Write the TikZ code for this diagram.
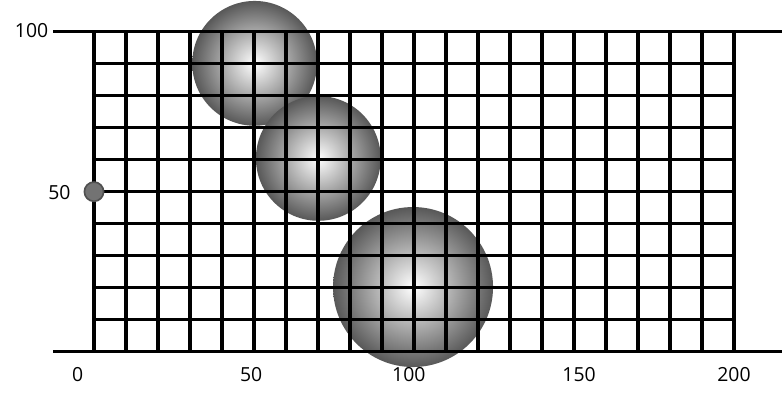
\documentclass[tikz,border=0pt]{standalone}
\usepackage{fontspec}
\setmainfont{Open Sans}
\usepackage{tikz}
\usetikzlibrary{positioning, shapes.geometric}
\definecolor{balledge}{RGB}{88,88,88}
\definecolor{dotfill}{RGB}{115,115,115}
\definecolor{dotline}{RGB}{80,80,80}

\begin{document}
\begin{tikzpicture}[
  x=0.08cm, y=0.08cm,
  ball/.style={
    circle, inner sep=0pt,
    inner color=white, outer color=balledge,
    minimum size=#1
  },
  gridline/.style={
    draw=black, line width=2.4pt
  },
  ticklabel/.style={
    font=\fontsize{13.8pt}{16pt}\selectfont,
    inner sep=0pt
  },
  marker/.style={
    circle, inner sep=0pt, minimum size=0.48cm,
    fill=dotfill, draw=dotline, line width=1.2pt
  }
]
\useasboundingbox (-29.375,-16.34) rectangle (215,109.9);

% spheres sit behind the grid
\node[ball=3.12cm] (sphA) at (50.2,90.1) {};
\node[ball=3.12cm] (sphB) at (70.1,60.4) {};
\node[ball=4cm]    (sphC) at (99.7,20.2) {};

% grid
\foreach \gx in {0,10,...,200}
  \draw[gridline] (\gx,0) -- (\gx,100);
\foreach \gy in {0,10,...,100}
  \draw[gridline] (0,\gy) -- (200,\gy);

% axes
\coordinate (baseL) at (-12.7,0);
\coordinate (baseR) at (215,0);
\coordinate (topL)  at (-12.7,100);
\coordinate (topR)  at (215,100);
\draw[gridline] (baseL) -- (baseR);
\draw[gridline] (topL) -- (topR);

% start point
\node[marker] (start) at (0,50) {};

% labels
\node[ticklabel] (lx0)   at (-5.1,-7.3)  {0};
\node[ticklabel] (lx50)  at (49.1,-7.3)  {50};
\node[ticklabel] (lx100) at (98.4,-7.3)  {100};
\node[ticklabel] (lx150) at (151.6,-7.3) {150};
\node[ticklabel] (lx200) at (200,-7.3)   {200};
\node[ticklabel] (ly100) at (-19.5,100.2) {100};
\node[ticklabel] (ly50)  at (-10.8,49.6)  {50};
\end{tikzpicture}
\end{document}
